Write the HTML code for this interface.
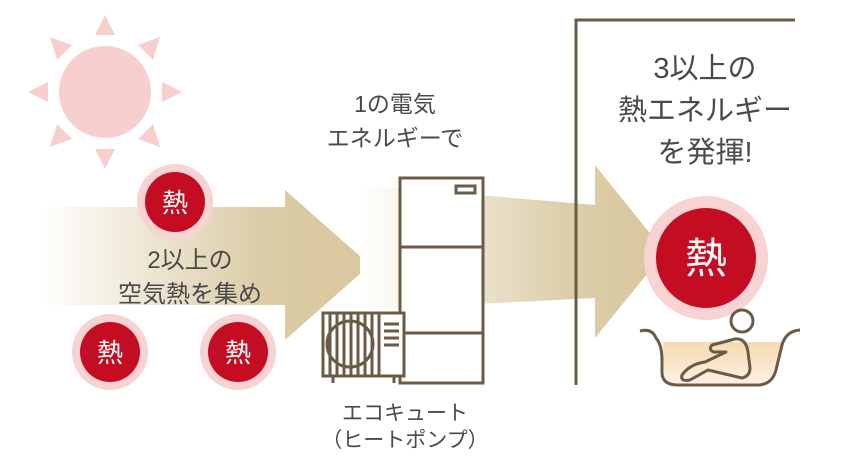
<!DOCTYPE html>
<html><head><meta charset="utf-8"><style>
body{margin:0;background:#fff;}
svg{display:block;font-family:"Liberation Sans","Noto Sans CJK JP",sans-serif;}
</style></head><body>
<svg width="860" height="460" viewBox="0 0 860 460" xmlns="http://www.w3.org/2000/svg">
<defs>
<linearGradient id="g1" x1="40" x2="330" y1="0" y2="0" gradientUnits="userSpaceOnUse">
<stop offset="0" stop-color="#fff"/><stop offset="0.75" stop-color="#dccda8"/><stop offset="1" stop-color="#d9c8a0"/></linearGradient>
<linearGradient id="g2" x1="360" x2="640" y1="0" y2="0" gradientUnits="userSpaceOnUse">
<stop offset="0" stop-color="#fff"/><stop offset="0.7" stop-color="#ddd0ad"/><stop offset="1" stop-color="#d9c8a0"/></linearGradient>
<linearGradient id="w" x1="0" y1="0" x2="0" y2="1"><stop offset="0" stop-color="#f5d9b0"/><stop offset="1" stop-color="#fdf1e2"/></linearGradient>
</defs>
<!-- sun -->
<g fill="#f8cfcf">
<circle cx="105" cy="92" r="46"/>
<polygon points="95,35 115,35 105,15"/>
<polygon points="95,149 115,149 105,169"/>
<polygon points="48,82 48,102 28,92"/>
<polygon points="162,82 162,102 182,92"/>
<polygon points="50,37 72,45 57,60"/>
<polygon points="160,37 138,45 153,60"/>
<polygon points="50,147 72,139 57,124"/>
<polygon points="160,147 138,139 153,124"/>
</g>
<!-- arrows -->
<polygon points="40,207 285,207 285,190 370,265 285,340 285,305 40,305" fill="url(#g1)"/>
<polygon points="360,185 595,205 595,165 665,252 595,338 595,298 360,310" fill="url(#g2)"/>
<!-- wall -->
<path d="M576,385 V20 H795" fill="none" stroke="#6b5a45" stroke-width="3"/>
<!-- tank -->
<g fill="none" stroke="#6b5a45" stroke-width="3">
<rect x="400" y="178" width="83" height="205" fill="#fff"/>
<line x1="400" y1="247" x2="483" y2="247"/>
<line x1="400" y1="333" x2="483" y2="333"/>
<rect x="456" y="186" width="19" height="7"/>
<rect x="323" y="313" width="81" height="63" fill="#fff"/>
<circle cx="350" cy="344" r="23"/>
<line x1="330" y1="313" x2="330" y2="376"/><line x1="337" y1="313" x2="337" y2="376"/>
<line x1="344" y1="313" x2="344" y2="376"/><line x1="351" y1="313" x2="351" y2="376"/>
<line x1="358" y1="313" x2="358" y2="376"/><line x1="365" y1="313" x2="365" y2="376"/>
<line x1="372" y1="313" x2="372" y2="376"/><line x1="379" y1="313" x2="379" y2="376"/>
<line x1="384" y1="324" x2="399" y2="324"/><line x1="384" y1="331" x2="399" y2="331"/>
<line x1="384" y1="338" x2="399" y2="338"/><line x1="384" y1="345" x2="399" y2="345"/>
<line x1="333" y1="376" x2="333" y2="383"/><line x1="394" y1="376" x2="394" y2="383"/>
</g>
<!-- heat circles -->
<g font-size="26" fill="#fff" text-anchor="middle">
<circle cx="175" cy="202" r="38" fill="#f8d3d3"/><circle cx="175" cy="202" r="30" fill="#c40d23"/>
<text x="175" y="212">熱</text>
<circle cx="110" cy="352" r="38" fill="#f8d3d3"/><circle cx="110" cy="352" r="30" fill="#c40d23"/>
<text x="110" y="362">熱</text>
<circle cx="238" cy="352" r="38" fill="#f8d3d3"/><circle cx="238" cy="352" r="30" fill="#c40d23"/>
<text x="238" y="362">熱</text>
<circle cx="706" cy="258" r="62" fill="#f8d3d3"/><circle cx="706" cy="258" r="50" fill="#c40d23"/>
<text x="706" y="273" font-size="42">熱</text>
</g>
<!-- bath -->
<path d="M663,342 H783 L775,368 Q770,383 757,383 H678 Q664,383 664,370 Z" fill="url(#w)"/>
<path d="M640,331 Q652,328 656,338 Q662,345 662,360 V372 Q662,385 678,385 H757 Q772,385 776,370 L782,345 Q786,331 800,330" fill="none" stroke="#6b5a45" stroke-width="3"/>
<rect x="652" y="362" width="8" height="10" fill="#fff"/>
<circle cx="742" cy="321" r="11" fill="none" stroke="#6b5a45" stroke-width="3"/>
<path d="M735,339 L712,345 Q708,350 714,352 L726,352 L705,362 Q690,364 682,375 Q680,382 690,380 L708,370 L742,378 Q750,376 750,368 L748,352 Q746,338 735,339 Z" fill="none" stroke="#6b5a45" stroke-width="3" stroke-linejoin="round"/>
<!-- texts -->
<g fill="#4a4a4a" text-anchor="middle">
<text x="395" y="112" font-size="23">1の電気</text>
<text x="395" y="146" font-size="23">エネルギーで</text>
<text x="190" y="268" font-size="24">2以上の</text>
<text x="190" y="302" font-size="24">空気熱を集め</text>
<text x="705" y="78" font-size="29">3以上の</text>
<text x="705" y="120" font-size="29">熱エネルギー</text>
<text x="705" y="162" font-size="29">を発揮!</text>
<text x="405" y="420" font-size="21">エコキュート</text>
<text x="405" y="447" font-size="21">（ヒートポンプ）</text>
</g>
</svg>
</body></html>
